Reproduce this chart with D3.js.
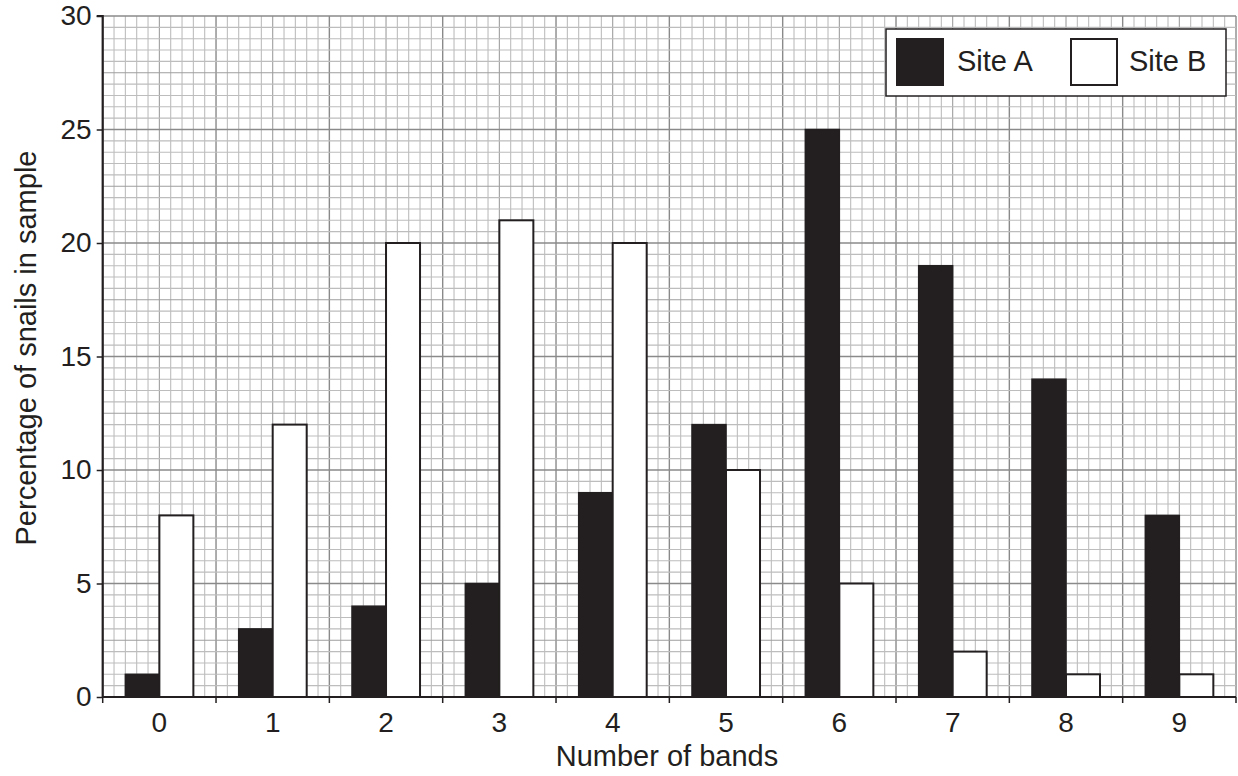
<!DOCTYPE html>
<html><head><meta charset="utf-8">
<script src="https://cdn.jsdelivr.net/npm/d3@7"></script>
<style>body{margin:0;background:#fff}svg{display:block}text{font-family:"Liberation Sans",Arial,sans-serif;fill:#231f20}</style>
</head><body>
<script>
const categories = ["0","1","2","3","4","5","6","7","8","9"];
const siteA = [1,3,4,5,9,12,25,19,14,8];
const siteB = [8,12,20,21,20,10,5,2,1,1];
const yTicks = [0,5,10,15,20,25,30];
const seriesNames = ["Site A","Site B"];

const W=1238,H=776;
const m={left:102.7,right:1236,top:16,bottom:697};
const svg=d3.select("body").append("svg").attr("width",W).attr("height",H);
const x=d3.scaleBand().domain(categories).range([m.left,m.right]).padding(0);
const y=d3.scaleLinear().domain([0,30]).range([m.bottom,m.top]);
const bw=x.bandwidth();
const cell=bw/10;

// grid
const g=svg.append("g");
const nCols=Math.round((m.right-m.left)/cell);
for(let i=0;i<=nCols;i++){
  const xx=m.left+i*cell;
  const major=i%10===0, mid=i%5===0;
  g.append("line").attr("x1",xx).attr("x2",xx).attr("y1",m.top).attr("y2",m.bottom)
   .attr("stroke",major?"#8a8a8a":(mid?"#9e9e9e":"#bdbdbd")).attr("stroke-width",major?1.4:1.1);
}
for(let v=0;v<=30;v+=0.5){
  const yy=y(v);
  const major=v%5===0, mid=v%2.5===0;
  g.append("line").attr("x1",m.left).attr("x2",m.right).attr("y1",yy).attr("y2",yy)
   .attr("stroke",major?"#8a8a8a":(mid?"#9e9e9e":"#bdbdbd")).attr("stroke-width",major?1.4:1.1);
}

// bars
const bars=svg.append("g");
categories.forEach((c,i)=>{
  bars.append("rect").attr("x",x(c)+2*cell).attr("y",y(siteA[i])).attr("width",3*cell).attr("height",y(0)-y(siteA[i]))
    .attr("fill","#231f20").attr("stroke","#231f20").attr("stroke-width",1.5);
  bars.append("rect").attr("x",x(c)+5*cell).attr("y",y(siteB[i])).attr("width",3*cell).attr("height",y(0)-y(siteB[i]))
    .attr("fill","#fff").attr("stroke","#231f20").attr("stroke-width",2);
});

// axes
const yAxis=svg.append("g").attr("transform",`translate(${m.left},0)`)
  .call(d3.axisLeft(y).tickValues(yTicks).tickSize(6).tickPadding(5));
const xAxis=svg.append("g").attr("transform",`translate(0,${m.bottom})`)
  .call(d3.axisBottom(x).tickSize(0).tickPadding(15));
const bounds=categories.map(c=>x(c)).concat([m.right]);
svg.append("g").selectAll("line").data(bounds).join("line")
  .attr("x1",d=>d).attr("x2",d=>d).attr("y1",m.bottom).attr("y2",m.bottom+6)
  .attr("stroke","#231f20").attr("stroke-width",1.5);
[yAxis,xAxis].forEach(a=>{
  a.select(".domain").attr("stroke","#231f20").attr("stroke-width",2.2);
  a.selectAll(".tick line").attr("stroke","#231f20").attr("stroke-width",1.5);
  a.selectAll(".tick text").attr("font-size",28).attr("fill","#231f20").style("font-family","Liberation Sans, Arial, sans-serif");
});
yAxis.select(".domain").attr("d",`M-6,${m.top}H0V${m.bottom}`);
xAxis.select(".domain").attr("d",`M${m.left},0H${m.right}`);

// axis titles
svg.append("text").attr("x",667).attr("y",766).attr("text-anchor","middle")
  .attr("font-size",29).text("Number of bands");
svg.append("text").attr("transform","translate(36,348) rotate(-90)").attr("text-anchor","middle")
  .attr("font-size",29).text("Percentage of snails in sample");

// legend
const lg=svg.append("g");
lg.append("rect").attr("x",886).attr("y",29).attr("width",340).attr("height",67)
  .attr("fill","#fff").attr("stroke","#231f20").attr("stroke-width",1.5);
lg.append("rect").attr("x",896).attr("y",38).attr("width",48).attr("height",48).attr("fill","#231f20");
lg.append("text").attr("x",957).attr("y",71).attr("font-size",29).text(seriesNames[0]);
lg.append("rect").attr("x",1071).attr("y",39).attr("width",46).attr("height",46).attr("fill","#fff")
  .attr("stroke","#231f20").attr("stroke-width",2);
lg.append("text").attr("x",1129).attr("y",71).attr("font-size",29).text(seriesNames[1]);
</script>
</body></html>
